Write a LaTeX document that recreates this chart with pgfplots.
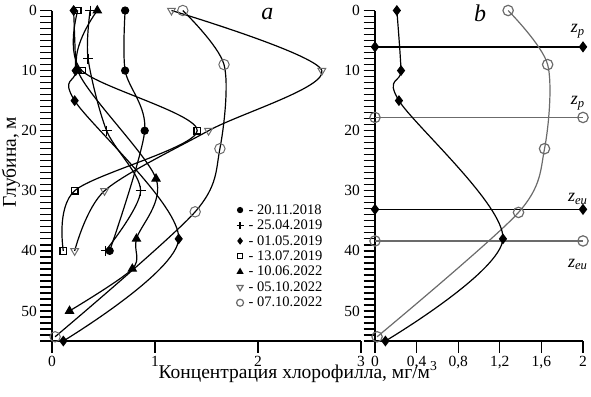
\documentclass[border=0pt]{standalone}
\usepackage{fontspec}
\setmainfont{Liberation Serif}
\usepackage{pgfplots}
\pgfplotsset{compat=1.18}
\definecolor{gr}{gray}{0.42}
\pgfplotsset{
  panel/.style={
    scale only axis, height=330.5pt,
    y dir=reverse, ymin=0, ymax=55,
    axis x line*=bottom, axis y line*=left,
    axis line style={line width=1.4pt},
    tick align=outside,
    ytick={0,10,20,30,40,50}, minor ytick={1,...,55},
    major tick length=11.5pt, minor tick length=11.5pt,
    every tick/.style={line width=1.3pt, black},
    tick label style={font=\fontsize{15.5}{18}\selectfont},
    /pgf/number format/assume math mode=true,
    yticklabels={0,10,20,30,40,50},
    clip=false,
    every axis plot/.append style={line width=1.2pt},
  },
}
\begin{document}
\begin{tikzpicture}
\begin{axis}[panel, at={(52pt,55pt)}, anchor=south west, width=309pt,
  xmin=0, xmax=3, xtick={0,1,2,3}, xticklabels={0,1,2,3},
  legend style={draw=none, fill=none, at={(axis cs:1.79,32.0)}, anchor=north west,
    font=\fontsize{14.5}{16}\selectfont, row sep=1.3pt, inner sep=0pt,
    nodes={inner sep=1.5pt}},
  legend cell align=left,
  legend image code/.code={\draw[#1] plot coordinates {(0pt,0pt)};},
]
% 20.11.2018
\addplot[forget plot, smooth, black, mark=*, mark size=3.5pt] coordinates {(0.71,0)(0.71,10)(0.90,20)(0.56,40)};
% 25.04.2019
\addplot[forget plot, smooth, black, mark=+, mark size=5pt] coordinates {(0.37,0)(0.35,8)(0.53,20)(0.86,30)(0.52,40)};
% 01.05.2019
\addplot[forget plot, smooth, black, mark=diamond*, mark size=4.5pt] coordinates {(0.21,0)(0.23,10)(0.22,15)(1.23,38)(0.11,55)};
% 13.07.2019
\addplot[forget plot, smooth, black, mark=square, mark size=3.3pt] coordinates {(0.25,0)(0.29,10)(1.41,20)(0.22,30)(0.11,40)};
% 10.06.2022
\addplot[forget plot, smooth, black, mark=triangle*, mark size=4.5pt] coordinates {(0.44,0)(0.25,10)(1.01,28)(0.82,38)(0.78,43)(0.17,50)};
% 05.10.2022
\addplot[forget plot, smooth, black, mark=triangle, mark size=4.5pt, mark options={rotate=180, draw=gr, fill=white, line width=1pt}] coordinates {(1.16,0)(2.62,10)(1.52,20)(0.51,30)(0.22,40)};
% 07.10.2022
\addplot[forget plot, smooth, black, mark=o, mark size=5.2pt, mark options={draw=gr, fill=white, line width=1pt}] coordinates {(1.27,0)(1.67,9)(1.63,23)(1.39,33.5)(0.03,54.3)};

\addlegendimage{only marks, black, mark=*, mark size=2.5pt}
\addlegendentry{\hspace{3.5pt}- 20.11.2018}
\addlegendimage{only marks, black, mark=+, mark size=3.5pt, line width=1.2pt}
\addlegendentry{\hspace{3.5pt}- 25.04.2019}
\addlegendimage{only marks, black, mark=diamond*, mark size=2.8pt}
\addlegendentry{\hspace{3.5pt}- 01.05.2019}
\addlegendimage{only marks, black, mark=square, mark size=2.5pt, line width=1.2pt}
\addlegendentry{\hspace{3.5pt}- 13.07.2019}
\addlegendimage{only marks, black, mark=triangle*, mark size=3pt}
\addlegendentry{\hspace{3.5pt}- 10.06.2022}
\addlegendimage{only marks, gr, mark=triangle, mark size=3.5pt, mark options={rotate=180}}
\addlegendentry{\hspace{3.5pt}- 05.10.2022}
\addlegendimage{only marks, gr, mark=o, mark size=3.5pt}
\addlegendentry{\hspace{3.5pt}- 07.10.2022}

\node at (axis cs:2.09,0.5) {\fontsize{24}{26}\selectfont\textit{a}};
\end{axis}

\begin{axis}[panel, at={(375pt,55pt)}, anchor=south west, width=208pt,
  xmin=0, xmax=2, xtick={0,0.4,0.8,1.2,1.6,2}, xticklabels={0,{0,4},{0,8},{1,2},{1,6},2}]
\addplot[black, line width=1.4pt, mark=diamond*, mark size=4.5pt] coordinates {(0,6.05)(2,6.05)};
\addplot[gr, line width=1.2pt, mark=o, mark size=5.2pt, mark options={fill=white}] coordinates {(0,17.8)(2,17.8)};
\addplot[black, line width=1.4pt, mark=diamond*, mark size=4.5pt] coordinates {(0,33.1)(2,33.1)};
\addplot[gr, line width=1.2pt, mark=o, mark size=5.2pt, mark options={fill=white}] coordinates {(0,38.35)(2,38.35)};
\addplot[smooth, gr, line width=1.2pt, mark=o, mark size=5.2pt, mark options={fill=white}] coordinates {(1.28,0)(1.66,9)(1.63,23)(1.38,33.6)(0.02,54.3)};
\addplot[smooth, black, mark=diamond*, mark size=4.5pt] coordinates {(0.21,0)(0.25,10)(0.23,15)(1.23,38)(0.10,55)};
\node at (axis cs:1.01,0.5) {\fontsize{24}{26}\selectfont\textit{b}};
\node at (axis cs:1.95,3.4) {\fontsize{18}{20}\selectfont\textit{z}\textsubscript{\textit{p}}};
\node at (axis cs:1.95,15.4) {\fontsize{18}{20}\selectfont\textit{z}\textsubscript{\textit{p}}};
\node at (axis cs:1.95,31.4) {\fontsize{18}{20}\selectfont\textit{z}\textsubscript{\textit{eu}}};
\node at (axis cs:1.95,42.25) {\fontsize{18}{20}\selectfont\textit{z}\textsubscript{\textit{eu}}};
\end{axis}

\node[rotate=90] at (11pt,234pt) {\fontsize{19.5}{22}\selectfont Глубина, м};
\node[anchor=base] at (298pt,18pt) {\fontsize{19.5}{22}\selectfont Концентрация хлорофилла, мг/м\textsuperscript{3}};
\pgfresetboundingbox
\useasboundingbox (0pt,0pt) rectangle (591pt,396pt);
\end{tikzpicture}
\end{document}
